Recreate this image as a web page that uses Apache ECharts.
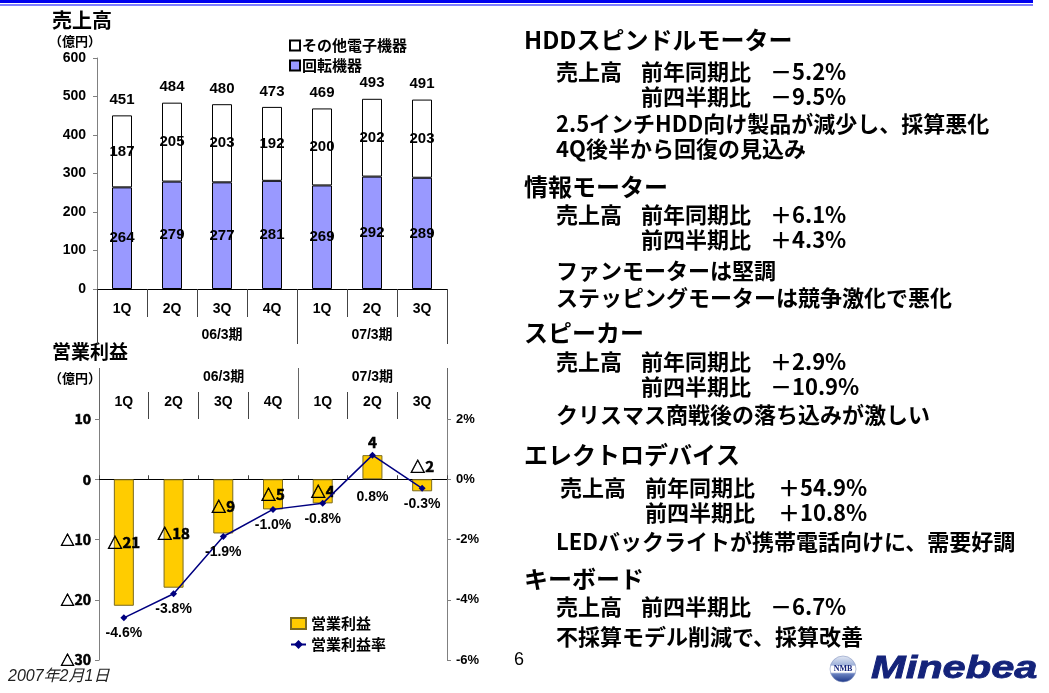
<!DOCTYPE html>
<html>
<head>
<meta charset="utf-8">
<script src="https://cdn.jsdelivr.net/npm/echarts@6/dist/echarts.min.js"></script>
<style>
  html, body { margin: 0; padding: 0; background: #fff; }
  #chart { width: 1049px; height: 693px; }
</style>
</head>
<body>
<div id="chart"></div>
<script>
// ---- data ----
const quarters = ['1Q', '2Q', '3Q', '4Q', '1Q', '2Q', '3Q'];
const fiscalYears = ['06/3期', '07/3期'];
const rotaryDevices = [264, 279, 277, 281, 269, 292, 289];      // 回転機器
const otherElectronics = [187, 205, 203, 192, 200, 202, 203];   // その他電子機器
const salesTotals = [451, 484, 480, 473, 469, 493, 491];
const operatingIncome = [-21, -18, -9, -5, -4, 4, -2];          // 営業利益 (億円)
const operatingMargin = [-4.6, -3.8, -1.9, -1.0, -0.8, 0.8, -0.3]; // 営業利益率 (%)
const salesTicks = [0, 100, 200, 300, 400, 500, 600];
const incomeTicks = [-30, -20, -10, 0, 10];
const marginTicks = [-6, -4, -2, 0, 2];

// segment commentary
const segments = [
  { head: 'HDDスピンドルモーター',
    rows: [['売上高', '前年同期比', '－5.2%'], ['', '前四半期比', '－9.5%']],
    notes: ['2.5インチHDD向け製品が減少し、採算悪化', '4Q後半から回復の見込み'] },
  { head: '情報モーター',
    rows: [['売上高', '前年同期比', '＋6.1%'], ['', '前四半期比', '＋4.3%']],
    notes: ['ファンモーターは堅調', 'ステッピングモーターは競争激化で悪化'] },
  { head: 'スピーカー',
    rows: [['売上高', '前年同期比', '＋2.9%'], ['', '前四半期比', '－10.9%']],
    notes: ['クリスマス商戦後の落ち込みが激しい'] },
  { head: 'エレクトロデバイス',
    rows: [['売上高', '前年同期比', '＋54.9%'], ['', '前四半期比', '＋10.8%']],
    notes: ['LEDバックライトが携帯電話向けに、需要好調'] },
  { head: 'キーボード',
    rows: [['売上高', '前四半期比', '－6.7%']],
    notes: ['不採算モデル削減で、採算改善'] }
];

// ---- layout ----
const FONT = "'Liberation Sans', 'Noto Sans CJK JP', sans-serif";
const JP = "'Noto Sans CJK JP', 'Liberation Sans', sans-serif";
// vertical placement of each commentary block: heading, rows, notes
const blockY = [
  { head: 40, rows: [72, 97], notes: [124, 149], x: [556, 641, 770] },
  { head: 187, rows: [215, 240], notes: [271, 298], x: [556, 641, 770] },
  { head: 333, rows: [362, 387], notes: [415], x: [556, 641, 770] },
  { head: 455, rows: [488, 513], notes: [542], x: [560, 645, 778] },
  { head: 579, rows: [607], notes: [637], x: [556, 641, 770] }
];

function text(x, y, str, size, extra) {
  return Object.assign({
    type: 'text', x: x, y: y, silent: true,
    style: Object.assign({
      text: str, fill: '#000', font: 'bold ' + size + 'px ' + JP,
      textVerticalAlign: 'middle', textAlign: 'left'
    }, (extra && extra.style) || {})
  }, extra && extra.el || {});
}

const graphics = [];
// header rule
graphics.push({ type: 'rect', shape: { x: 0, y: 0, width: 1033, height: 3 }, style: { fill: '#0000ee' }, silent: true });
graphics.push({ type: 'rect', shape: { x: 0, y: 4, width: 1033, height: 2 }, style: { fill: '#7f7fff' }, silent: true });

// chart titles
graphics.push(text(52, 20, '売上高', 20));
graphics.push(text(49, 41, '（億円）', 13));
graphics.push(text(52, 352, '営業利益', 19));
graphics.push(text(49, 378, '（億円）', 13));

// commentary
segments.forEach(function (seg, i) {
  const L = blockY[i];
  graphics.push(text(524, L.head, seg.head, 24));
  seg.rows.forEach(function (row, r) {
    row.forEach(function (part, c) {
      if (part) graphics.push(text(L.x[c], L.rows[r], part, 22));
    });
  });
  seg.notes.forEach(function (note, n) {
    graphics.push(text(556, L.notes[n], note, 22));
  });
});

// footer
graphics.push(text(514, 660, '6', 18, { style: { font: '18px ' + FONT } }));
graphics.push(text(8, 677, '2007年2月1日', 16, { style: { font: 'italic 16px ' + FONT, fill: '#222' } }));

// logo
graphics.push({
  type: 'circle', silent: true,
  shape: { cx: 843, cy: 669, r: 13 },
  style: {
    fill: new echarts.graphic.LinearGradient(0, 0, 0, 1, [
      { offset: 0, color: '#e4eaf5' }, { offset: 0.35, color: '#9fb1d9' },
      { offset: 0.4, color: '#ffffff' }, { offset: 0.62, color: '#ffffff' },
      { offset: 0.68, color: '#6a82c0' }, { offset: 1, color: '#1b3587' }
    ]),
    stroke: '#8796c0', lineWidth: 0.6
  }
});
graphics.push(text(843, 669, 'NMB', 8, { style: { textAlign: 'center', fill: '#14237a', font: 'bold 8px ' + "'Liberation Serif', serif" } }));
graphics.push({
  type: 'text', x: 871, y: 669, scaleX: 1.3, silent: true,
  style: { text: 'Minebea', fill: '#14237a', stroke: '#14237a', lineWidth: 0.8, font: 'italic bold 32px ' + FONT, textVerticalAlign: 'middle' }
});

// ---- chart option ----
const incomeFmt = function (v) { return v < 0 ? '△' + Math.abs(v) : String(v); };
const pctFmt = function (v) { return (v < 0 ? '-' : '') + Math.abs(v).toFixed(1) + '%'; };
const labelBase = { fontFamily: FONT, fontWeight: 'bold', color: '#000' };
const labelJP = { fontFamily: JP, fontWeight: 'bold', color: '#000', textBorderColor: '#000', textBorderWidth: 0.6 };

function groupLabel(value, index) {
  if (index === 1) return '{a|' + fiscalYears[0] + '}';
  if (index === 5) return '{b|' + fiscalYears[1] + '}';
  return '';
}
const groupTick = function (index) { return index === 0 || index === 4; };
const groupRich = {
  a: Object.assign({ fontSize: 14, padding: [0, 0, 0, 100] }, labelBase),
  b: Object.assign({ fontSize: 14 }, labelBase)
};

const option = {
  animation: false,
  backgroundColor: '#fff',
  textStyle: { fontFamily: FONT },
  graphic: graphics,
  grid: [
    { left: 97, top: 58, width: 350, height: 231 },
    { left: 99, top: 419, width: 348, height: 241 }
  ],
  legend: [
    {
      data: [{ name: 'その他電子機器', icon: 'rect' }, { name: '回転機器', icon: 'rect' }],
      orient: 'vertical', left: 284, top: 33,
      itemWidth: 10, itemHeight: 10, itemGap: 5, selectedMode: false,
      textStyle: { fontSize: 15, padding: [0, 0, 0, -3], fontFamily: JP, fontWeight: 'bold', color: '#000' }
    },
    {
      data: [{ name: '営業利益', icon: 'rect' }, '営業利益率'],
      orient: 'vertical', left: 285, top: 611,
      itemWidth: 15, itemHeight: 11, itemGap: 6, selectedMode: false,
      textStyle: { fontSize: 15, fontFamily: JP, fontWeight: 'bold', color: '#000' }
    }
  ],
  xAxis: [
    { // quarters under sales bars
      type: 'category', gridIndex: 0, data: quarters, position: 'bottom',
      axisLine: { show: true, lineStyle: { color: '#000', width: 1 } },
      axisTick: { show: true, interval: 0, length: 28, lineStyle: { color: '#444' } },
      axisLabel: Object.assign({ interval: 0, fontSize: 14, margin: 13 }, labelBase)
    },
    { // fiscal years under sales bars
      type: 'category', gridIndex: 0, data: quarters, position: 'bottom',
      axisLine: { show: false },
      axisTick: { show: true, interval: groupTick, length: 55, lineStyle: { color: '#444' } },
      axisLabel: Object.assign({ interval: 0, fontSize: 14, margin: 39, formatter: groupLabel, rich: groupRich }, labelBase)
    },
    { // zero line of the income chart
      type: 'category', gridIndex: 1, data: quarters, position: 'bottom',
      axisLine: { show: true, onZero: true, lineStyle: { color: '#000', width: 1 } },
      axisTick: { show: true, interval: 0, inside: true, length: 4, lineStyle: { color: '#444' } },
      axisLabel: { show: false }
    },
    { // quarters header above income chart
      type: 'category', gridIndex: 1, data: quarters, position: 'top',
      axisLine: { show: false, onZero: false },
      axisTick: { show: true, interval: 0, length: 27, lineStyle: { color: '#444' } },
      axisLabel: Object.assign({ interval: 0, fontSize: 14, margin: 10 }, labelBase)
    },
    { // fiscal years header above income chart
      type: 'category', gridIndex: 1, data: quarters, position: 'top',
      axisLine: { show: false, onZero: false },
      axisTick: { show: true, interval: groupTick, length: 51, lineStyle: { color: '#666' } },
      axisLabel: Object.assign({ interval: 0, fontSize: 14, margin: 35, formatter: groupLabel, rich: groupRich }, labelBase)
    }
  ],
  yAxis: [
    {
      type: 'value', gridIndex: 0,
      min: salesTicks[0], max: salesTicks[salesTicks.length - 1], interval: salesTicks[1] - salesTicks[0],
      axisLine: { show: true, lineStyle: { color: '#808080' } },
      axisTick: { show: true, length: 4, lineStyle: { color: '#808080' } },
      splitLine: { show: false },
      axisLabel: Object.assign({ fontSize: 14, margin: 11 }, labelBase)
    },
    {
      type: 'value', gridIndex: 1, position: 'left',
      min: incomeTicks[0], max: incomeTicks[incomeTicks.length - 1], interval: incomeTicks[1] - incomeTicks[0],
      axisLine: { show: true, onZero: false, lineStyle: { color: '#808080' } },
      axisTick: { show: true, length: 4, lineStyle: { color: '#808080' } },
      splitLine: { show: false },
      axisLabel: Object.assign({ fontSize: 14, margin: 8, formatter: incomeFmt }, labelJP)
    },
    {
      type: 'value', gridIndex: 1, position: 'right',
      min: marginTicks[0], max: marginTicks[marginTicks.length - 1], interval: marginTicks[1] - marginTicks[0],
      axisLine: { show: true, onZero: false, lineStyle: { color: '#808080' } },
      axisTick: { show: true, length: 4, lineStyle: { color: '#808080' } },
      splitLine: { show: false },
      axisLabel: Object.assign({ fontSize: 13, margin: 9, formatter: function (v) { return v + '%'; } }, labelBase)
    }
  ],
  series: [
    {
      name: '回転機器', type: 'bar', stack: 'sales', xAxisIndex: 0, yAxisIndex: 0,
      data: rotaryDevices, barWidth: 20,
      itemStyle: { color: '#9999ff', borderColor: '#000', borderWidth: 1 },
      label: Object.assign({ show: true, position: 'inside', fontSize: 15 }, labelBase)
    },
    {
      name: 'その他電子機器', type: 'bar', stack: 'sales', xAxisIndex: 0, yAxisIndex: 0,
      data: otherElectronics, barWidth: 20,
      itemStyle: { color: '#ffffff', borderColor: '#000', borderWidth: 1 },
      label: Object.assign({ show: true, position: 'inside', fontSize: 15 }, labelBase)
    },
    { // zero-height cap carrying the total above each stack
      name: '売上高合計', type: 'bar', stack: 'sales', xAxisIndex: 0, yAxisIndex: 0,
      data: salesTotals.map(function () { return 0; }), barWidth: 20, silent: true,
      itemStyle: { color: 'rgba(0,0,0,0)', borderWidth: 0 },
      label: Object.assign({
        show: true, position: 'top', distance: 8, fontSize: 15,
        formatter: function (p) { return String(salesTotals[p.dataIndex]); }
      }, labelBase)
    },
    {
      name: '営業利益', type: 'bar', xAxisIndex: 2, yAxisIndex: 1,
      data: operatingIncome.map(function (v) {
        return { value: v, label: { position: v > -3 ? 'top' : 'inside' } };
      }),
      barWidth: 20,
      itemStyle: { color: '#ffcc00', borderColor: '#7a6a20', borderWidth: 1 },
      label: Object.assign({ show: true, fontSize: 15, distance: 5, formatter: function (p) { return incomeFmt(p.value); } }, labelJP)
    },
    {
      name: '営業利益率', type: 'line', xAxisIndex: 2, yAxisIndex: 2,
      data: operatingMargin.map(function (v) {
        return v > 0 ? { value: v, label: { offset: [0, 26] } } : v;
      }),
      symbol: 'diamond', symbolSize: 7,
      lineStyle: { color: '#000080', width: 1.5 },
      itemStyle: { color: '#000080' },
      label: Object.assign({ show: true, position: 'bottom', distance: 5, fontSize: 14, formatter: function (p) { return pctFmt(p.value); } }, labelBase)
    }
  ]
};

const chart = echarts.init(document.getElementById('chart'), null, { renderer: 'canvas' });
chart.setOption(option);
</script>
</body>
</html>
